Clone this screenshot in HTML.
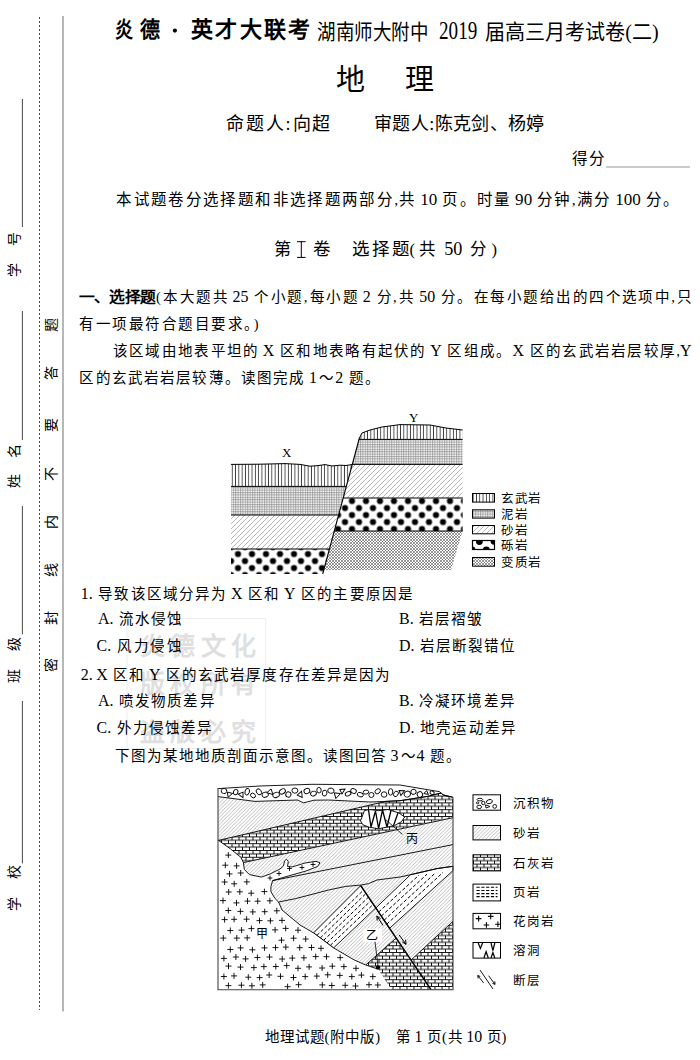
<!DOCTYPE html><html lang="zh-CN"><head><meta charset="utf-8"><style>
*{margin:0;padding:0;box-sizing:border-box}
html,body{width:700px;height:1060px;background:#fff;overflow:hidden}
body{position:relative;font-family:"Liberation Serif",serif;color:#000}
.t{position:absolute;white-space:nowrap;line-height:1;text-align:justify;text-align-last:justify}
.n{position:absolute;white-space:nowrap;line-height:1}
.h{font-family:"Liberation Sans",sans-serif}
svg{position:absolute;left:0;top:0}
</style></head><body>
<svg width="700" height="1060" viewBox="0 0 700 1060"><defs>
<pattern id="basalt" width="3.3" height="10" patternUnits="userSpaceOnUse"><rect width="3.3" height="10" fill="#fff"/><line x1="1.2" y1="0" x2="1.2" y2="10" stroke="#000" stroke-width="0.75"/></pattern>
<pattern id="mud" width="2.4" height="2.4" patternUnits="userSpaceOnUse"><rect width="2.4" height="2.4" fill="#fff"/><line x1="0.6" y1="0" x2="0.6" y2="2.4" stroke="#888" stroke-width="0.7"/><line x1="0" y1="0.6" x2="2.4" y2="0.6" stroke="#888" stroke-width="0.7"/></pattern>
<pattern id="sand1" width="5" height="5" patternUnits="userSpaceOnUse"><rect width="5" height="5" fill="#fff"/><path d="M-1,6 L6,-1 M-1,1 L1,-1 M4,6 L6,4" stroke="#777" stroke-width="0.55"/></pattern>
<pattern id="cong" width="14" height="14" patternUnits="userSpaceOnUse" x="234.5" y="550.5"><rect width="14" height="14" fill="#fff"/><circle cx="3.5" cy="3.5" r="3.1" fill="#000"/><circle cx="10.5" cy="10.5" r="3.1" fill="#000"/><circle cx="10.5" cy="-3.5" r="3.1" fill="#000"/><circle cx="-3.5" cy="10.5" r="3.1" fill="#000"/><circle cx="17.5" cy="10.5" r="3.1" fill="#000"/><circle cx="10.5" cy="17.5" r="3.1" fill="#000"/></pattern>
<pattern id="cong2" width="14" height="14" patternUnits="userSpaceOnUse" x="348.5" y="497.5"><rect width="14" height="14" fill="#fff"/><circle cx="3.5" cy="3.5" r="3.1" fill="#000"/><circle cx="10.5" cy="10.5" r="3.1" fill="#000"/><circle cx="10.5" cy="-3.5" r="3.1" fill="#000"/><circle cx="-3.5" cy="10.5" r="3.1" fill="#000"/><circle cx="17.5" cy="10.5" r="3.1" fill="#000"/><circle cx="10.5" cy="17.5" r="3.1" fill="#000"/></pattern>
<pattern id="meta" width="3" height="3" patternUnits="userSpaceOnUse"><rect width="3" height="3" fill="#fff"/><path d="M0,0 L3,3 M3,0 L0,3" stroke="#555" stroke-width="0.6"/></pattern>
<pattern id="sand2" width="3.6" height="3.6" patternUnits="userSpaceOnUse"><rect width="3.6" height="3.6" fill="#fff"/><path d="M-0.9,4.5 L4.5,-0.9 M-0.9,0.9 L0.9,-0.9 M2.7,4.5 L4.5,2.7" stroke="#777" stroke-width="0.5"/></pattern>
<pattern id="brick" width="7" height="6.8" patternUnits="userSpaceOnUse"><rect width="7" height="6.8" fill="#fff"/><path d="M0,0.5 H7 M0,3.9 H7 M1,0.5 V3.9 M4.5,3.9 V6.8" stroke="#000" stroke-width="0.9"/></pattern>
</defs>
<circle cx="174.9" cy="30.6" r="2.1" fill="#000"/>
<path d="M301.3,241.5 V257.6 M297,241.7 H305.6 M297,257.4 H305.6" stroke="#000" stroke-width="1.0" fill="none"/>
<line x1="39.5" y1="17" x2="39.5" y2="1010" stroke="#333" stroke-width="0.9" stroke-dasharray="2 2"/>
<line x1="63" y1="16" x2="63" y2="1011.5" stroke="#999" stroke-width="1.4"/>
<line x1="22.4" y1="99" x2="22.4" y2="227" stroke="#333" stroke-width="0.9"/>
<line x1="22.4" y1="311" x2="22.4" y2="440" stroke="#333" stroke-width="0.9"/>
<line x1="22.4" y1="506" x2="22.4" y2="634.4" stroke="#333" stroke-width="0.9"/>
<line x1="22.4" y1="701" x2="22.4" y2="863.4" stroke="#333" stroke-width="0.9"/>
<line x1="606" y1="167" x2="690" y2="167" stroke="#999" stroke-width="1.2"/>
<rect x="127" y="618.6" width="138.7" height="130" fill="none" stroke="#eee" stroke-width="1"/>
<polygon points="231.0,464.4 260.0,464.2 285.0,463.6 300.0,464.4 310.0,466.2 318.0,465.6 325.0,464.6 332.0,466.0 340.0,465.2 346.0,465.5 352.3,464.5 346.4,486.4 231.0,486.4" fill="url(#basalt)"/>
<polygon points="231.0,486.4 346.4,486.4 338.6,515.0 231.0,515.0" fill="url(#mud)"/>
<polygon points="231.0,515.0 338.6,515.0 329.4,549.0 231.0,549.0" fill="url(#sand1)"/>
<polygon points="231.0,549.0 329.4,549.0 322.7,574.0 231.0,574.0" fill="url(#cong)"/>
<polyline points="231.0,464.4 260.0,464.2 285.0,463.6 300.0,464.4 310.0,466.2 318.0,465.6 325.0,464.6 332.0,466.0 340.0,465.2 346.0,465.5 352.3,464.5" fill="none" stroke="#000" stroke-width="1"/>
<line x1="231" y1="486.4" x2="346.4" y2="486.4" stroke="#000" stroke-width="1"/>
<line x1="231" y1="515" x2="338.6" y2="515" stroke="#000" stroke-width="1"/>
<line x1="231" y1="549" x2="329.4" y2="549" stroke="#000" stroke-width="1"/>
<polygon points="359.4,438.0 362.0,433.0 370.0,430.0 382.0,427.0 400.0,424.6 430.0,425.0 446.0,428.0 462.6,430.0 462.6,439.4 359.0,439.4" fill="url(#basalt)"/>
<polygon points="359.0,439.4 462.6,439.4 462.6,464.4 352.3,464.4" fill="url(#mud)"/>
<polygon points="352.3,464.4 462.6,464.4 462.6,498.0 343.2,498.0" fill="url(#sand1)"/>
<polygon points="343.2,498.0 462.6,498.0 462.6,531.0 334.3,531.0" fill="url(#cong2)"/>
<polygon points="334.3,531.0 462.6,531.0 451.0,570.0 323.8,570.0" fill="url(#meta)"/>
<polyline points="359.4,438.0 362.0,433.0 370.0,430.0 382.0,427.0 400.0,424.6 430.0,425.0 446.0,428.0 462.6,430.0" fill="none" stroke="#000" stroke-width="1"/>
<line x1="359.0" y1="439.4" x2="462.6" y2="439.4" stroke="#000" stroke-width="1"/>
<line x1="352.3" y1="464.4" x2="462.6" y2="464.4" stroke="#000" stroke-width="1"/>
<line x1="343.2" y1="498" x2="462.6" y2="498" stroke="#000" stroke-width="1"/>
<line x1="334.3" y1="531" x2="462.6" y2="531" stroke="#000" stroke-width="1"/>
<line x1="359.4" y1="438" x2="322.7" y2="574" stroke="#000" stroke-width="1.1"/>
<rect x="472.5" y="493.5" width="22" height="8.600000000000023" fill="url(#basalt)" stroke="#000" stroke-width="1"/>
<rect x="472.5" y="509.8" width="22" height="8.300000000000011" fill="url(#mud)" stroke="#000" stroke-width="1"/>
<rect x="472.5" y="525.5" width="22" height="8.299999999999955" fill="url(#sand1)" stroke="#000" stroke-width="1"/>
<clipPath id="cgclip"><rect x="472.5" y="540.5" width="22" height="9"/></clipPath>
<rect x="472.5" y="540.5" width="22" height="9" fill="#fff"/>
<g clip-path="url(#cgclip)" fill="#000"><circle cx="479.4" cy="541.6" r="3.4"/><circle cx="494" cy="541.3" r="3.4"/><circle cx="486.3" cy="549.8" r="3.4"/><circle cx="472.3" cy="549.5" r="3"/></g>
<rect x="472.5" y="540.5" width="22" height="9" fill="none" stroke="#000" stroke-width="1.2"/>
<rect x="472.5" y="557.5" width="22" height="8.700000000000045" fill="url(#meta)" stroke="#000" stroke-width="1"/>
<polygon points="218.0,788.6 260.0,786.0 312.0,784.3 400.0,785.0 439.6,791.7 443.3,795.0 453.0,797.3 441.0,793.0 427.5,796.4 400.0,800.7 385.7,801.4 371.0,802.0 357.0,801.4 328.6,800.0 314.0,800.2 303.4,802.9 297.7,800.0 255.0,801.4 218.0,796.6" fill="#fff"/>
<g fill="#fff" stroke="#000" stroke-width="0.9"><ellipse cx="224.0" cy="791.0" rx="2.8" ry="2.6" transform="rotate(13 224.0 791.0)"/><path d="M229.8,791.1 L232.6,796.3 L227.5,796.0Z" transform="rotate(78 229.8 794.0)"/><ellipse cx="235.7" cy="792.1" rx="2.7" ry="2.2" transform="rotate(113 235.7 792.1)"/><path d="M241.8,792.0 L244.7,797.2 L239.5,796.9Z" transform="rotate(155 241.8 794.9)"/><ellipse cx="247.2" cy="791.7" rx="3.4" ry="2.2" transform="rotate(105 247.2 791.7)"/><ellipse cx="253.0" cy="795.5" rx="2.7" ry="2.1" transform="rotate(37 253.0 795.5)"/><ellipse cx="258.9" cy="791.8" rx="3.2" ry="2.4" transform="rotate(54 258.9 791.8)"/><ellipse cx="265.2" cy="794.7" rx="3.2" ry="2.5" transform="rotate(158 265.2 794.7)"/><path d="M270.8,789.2 L274.0,794.8 L268.3,794.5Z" transform="rotate(136 270.8 792.3)"/><ellipse cx="276.1" cy="794.9" rx="3.4" ry="2.5" transform="rotate(158 276.1 794.9)"/><ellipse cx="282.4" cy="791.4" rx="3.2" ry="2.4" transform="rotate(151 282.4 791.4)"/><ellipse cx="288.4" cy="794.5" rx="2.7" ry="2.6" transform="rotate(116 288.4 794.5)"/><ellipse cx="294.9" cy="790.6" rx="3.0" ry="2.6" transform="rotate(4 294.9 790.6)"/><path d="M300.4,791.0 L303.4,796.5 L297.9,796.2Z" transform="rotate(23 300.4 794.1)"/><ellipse cx="306.9" cy="791.0" rx="3.0" ry="2.5" transform="rotate(159 306.9 791.0)"/><ellipse cx="313.5" cy="793.6" rx="3.0" ry="2.3" transform="rotate(159 313.5 793.6)"/><ellipse cx="319.0" cy="790.2" rx="2.8" ry="2.2" transform="rotate(87 319.0 790.2)"/><ellipse cx="324.6" cy="793.1" rx="3.0" ry="2.3" transform="rotate(102 324.6 793.1)"/><ellipse cx="330.9" cy="790.7" rx="3.2" ry="2.6" transform="rotate(10 330.9 790.7)"/><path d="M337.3,791.3 L340.6,797.2 L334.7,796.9Z" transform="rotate(72 337.3 794.6)"/><path d="M342.6,787.6 L345.4,792.7 L340.4,792.4Z" transform="rotate(61 342.6 790.4)"/><ellipse cx="348.1" cy="793.8" rx="3.0" ry="2.0" transform="rotate(157 348.1 793.8)"/><ellipse cx="353.5" cy="791.0" rx="2.9" ry="2.3" transform="rotate(22 353.5 791.0)"/><ellipse cx="360.3" cy="794.7" rx="3.1" ry="2.1" transform="rotate(18 360.3 794.7)"/><ellipse cx="365.9" cy="792.1" rx="2.8" ry="2.0" transform="rotate(171 365.9 792.1)"/><ellipse cx="371.4" cy="795.0" rx="2.6" ry="2.5" transform="rotate(176 371.4 795.0)"/><ellipse cx="377.7" cy="791.3" rx="3.0" ry="2.2" transform="rotate(139 377.7 791.3)"/><ellipse cx="384.1" cy="794.5" rx="2.8" ry="2.7" transform="rotate(177 384.1 794.5)"/><ellipse cx="390.6" cy="791.9" rx="3.3" ry="2.2" transform="rotate(93 390.6 791.9)"/><ellipse cx="395.9" cy="793.9" rx="2.9" ry="2.2" transform="rotate(125 395.9 793.9)"/><path d="M401.8,788.9 L404.7,794.2 L399.4,793.9Z" transform="rotate(66 401.8 791.9)"/><ellipse cx="407.3" cy="794.1" rx="3.2" ry="2.8" transform="rotate(151 407.3 794.1)"/><ellipse cx="413.5" cy="791.8" rx="2.7" ry="2.6" transform="rotate(164 413.5 791.8)"/><ellipse cx="419.9" cy="794.5" rx="2.8" ry="2.7" transform="rotate(60 419.9 794.5)"/><path d="M426.7,790.8 L428.9,794.8 L424.9,794.6Z" transform="rotate(130 426.7 793.0)"/><ellipse cx="432.1" cy="792.8" rx="2.2" ry="1.7" transform="rotate(26 432.1 792.8)"/></g>
<polygon points="218.0,796.6 255.0,801.4 297.7,800.0 303.4,802.9 314.0,800.2 328.6,800.0 357.0,801.4 371.0,802.0 385.7,801.4 400.0,800.7 427.5,796.4 441.0,793.0 453.0,797.3 443.3,795.0 441.0,793.0 427.5,796.4 400.0,800.7 385.7,801.4 218.0,840.5" fill="url(#sand2)"/>
<polygon points="218.0,840.5 385.7,801.4 400.0,800.7 427.5,796.4 441.0,793.0 443.3,795.0 453.0,797.3 453.0,817.7 243.4,862.6 241.0,857.4 230.6,849.0" fill="url(#brick)"/>
<polygon points="243.4,862.6 453.0,817.0 453.0,844.6 272.6,880.6 261.4,877.1 249.4,874.6 244.3,869.4" fill="url(#sand2)"/>
<polygon points="272.6,880.6 453.0,844.6 453.0,866.3 437.0,868.6 410.5,874.7 400.0,877.0 377.0,880.0 368.6,883.6 361.4,885.0 345.7,886.4 328.6,890.0 295.7,898.6 278.6,902.0 275.1,898.6 270.9,891.7 270.9,886.6" fill="url(#sand2)"/>
<polygon points="278.6,902.0 295.7,898.6 328.6,890.0 345.7,886.4 361.4,885.0 368.6,883.6 377.0,880.0 400.0,877.0 410.5,874.7 437.0,868.6 453.0,866.3 453.0,989.7 391.4,989.7 377.7,969.0 365.7,965.0 354.3,960.0 333.6,947.9 313.6,932.9 300.0,925.0 282.0,910.0" fill="url(#sand2)"/>
<polygon points="313.6,932.9 360.7,885.7 375.8,907.9 333.6,947.9" fill="#fff" stroke="#000" stroke-width="0.9"/>
<polygon points="375.8,908.0 410.5,874.7 437.0,868.6 453.0,866.3 453.0,870.6 389.6,928.3" fill="#fff" stroke="#000" stroke-width="0.9"/>
<g stroke="#000" stroke-width="1" stroke-dasharray="3.4 2"><line x1="316.9" y1="935.4" x2="363.5" y2="890.1"/><line x1="320.3" y1="937.9" x2="365.9" y2="893.6"/><line x1="323.6" y1="940.4" x2="368.4" y2="897.2"/><line x1="326.9" y1="942.9" x2="370.8" y2="900.8"/><line x1="330.3" y1="945.4" x2="373.3" y2="904.3"/><line x1="378.6" y1="912.1" x2="419.0" y2="875.1"/><line x1="381.3" y1="916.1" x2="427.0" y2="874.2"/><line x1="384.1" y1="920.2" x2="435.0" y2="873.3"/><line x1="386.8" y1="924.2" x2="443.0" y2="872.4"/></g>
<polygon points="365.7,965.0 396.2,938.0 431.0,989.7 391.4,989.7 377.7,969.0" fill="url(#brick)"/>
<polyline points="365.7,965.0 396.2,938.0" fill="none" stroke="#000" stroke-width="0.9"/>
<polygon points="411.1,960.0 453.0,921.3 453.0,989.7 431.0,989.7" fill="url(#brick)"/>
<polyline points="411.1,960.0 453.0,921.3" fill="none" stroke="#000" stroke-width="0.9"/>
<polygon points="218.0,840.0 230.6,849.0 241.0,857.4 243.4,862.6 244.3,869.4 249.4,874.6 261.4,877.1 270.0,874.0 280.0,869.0 283.5,866.0 284.5,861.0 286.5,859.3 288.3,861.5 287.5,866.5 292.0,867.0 305.0,863.0 316.0,861.3 320.0,862.8 317.5,866.5 306.0,871.0 290.0,875.5 272.6,880.6 270.9,886.6 270.9,891.7 275.1,898.6 278.6,902.0 282.0,910.0 300.0,925.0 313.6,932.9 333.6,947.9 354.3,960.0 365.7,965.0 377.7,969.0 391.4,989.7 218.0,989.7" fill="#fff"/>
<polygon points="261.4,877.1 270.0,874.0 280.0,869.0 283.5,866.0 284.5,861.0 286.5,859.3 288.3,861.5 287.5,866.5 292.0,867.0 305.0,863.0 316.0,861.3 320.0,862.8 317.5,866.5 306.0,871.0 290.0,875.5 272.6,880.6" fill="#fff"/>
<polyline points="218.0,788.6 260.0,786.0 312.0,784.3 400.0,785.0 439.6,791.7 443.3,795.0 453.0,797.3" fill="none" stroke="#000" stroke-width="0.9"/>
<polyline points="218.0,796.6 255.0,801.4 297.7,800.0 303.4,802.9 314.0,800.2 328.6,800.0 357.0,801.4 371.0,802.0 385.7,801.4 400.0,800.7 427.5,796.4 441.0,793.0" fill="none" stroke="#000" stroke-width="0.9"/>
<polyline points="218.0,840.5 385.7,801.4 400.0,800.7 427.5,796.4 441.0,793.0 443.3,795.0 453.0,797.3" fill="none" stroke="#000" stroke-width="0.9"/>
<polyline points="243.4,862.6 453.0,817.7" fill="none" stroke="#000" stroke-width="0.9"/>
<polyline points="272.6,880.6 453.0,844.6" fill="none" stroke="#000" stroke-width="0.9"/>
<polyline points="278.6,902.0 295.7,898.6 328.6,890.0 345.7,886.4 361.4,885.0 368.6,883.6 377.0,880.0 400.0,877.0 410.5,874.7 437.0,868.6 453.0,866.3" fill="none" stroke="#000" stroke-width="0.9"/>
<polyline points="218.0,840.0 230.6,849.0 241.0,857.4 243.4,862.6 244.3,869.4 249.4,874.6 261.4,877.1 270.0,874.0 280.0,869.0 283.5,866.0 284.5,861.0 286.5,859.3 288.3,861.5 287.5,866.5 292.0,867.0 305.0,863.0 316.0,861.3 320.0,862.8 317.5,866.5 306.0,871.0 290.0,875.5 272.6,880.6 270.9,886.6 270.9,891.7 275.1,898.6 278.6,902.0 282.0,910.0 300.0,925.0 313.6,932.9 333.6,947.9 354.3,960.0 365.7,965.0 377.7,969.0" fill="none" stroke="#000" stroke-width="0.9"/>
<path d="M225.3,855.1h6M228.3,852.1v6M222.3,865.2h6M225.3,862.2v6M233.6,865.9h6M236.6,862.9v6M226.5,873.9h6M229.5,870.9v6M237.7,873.0h6M240.7,870.0v6M221.6,882.0h6M224.6,879.0v6M231.2,883.8h6M234.2,880.8v6M243.8,881.9h6M246.8,878.9v6M225.7,892.0h6M228.7,889.0v6M236.8,891.8h6M239.8,888.8v6M248.2,893.2h6M251.2,890.2v6M261.4,891.6h6M264.4,888.6v6M220.0,900.6h6M223.0,897.6v6M233.5,902.9h6M236.5,899.9v6M244.5,901.1h6M247.5,898.1v6M254.7,901.2h6M257.7,898.2v6M266.9,900.8h6M269.9,897.8v6M225.3,910.5h6M228.3,907.5v6M237.4,911.4h6M240.4,908.4v6M249.8,911.9h6M252.8,908.9v6M261.7,911.7h6M264.7,908.7v6M273.8,910.8h6M276.8,907.8v6M221.6,919.6h6M224.6,916.6v6M231.1,919.3h6M234.1,916.3v6M243.6,919.2h6M246.6,916.2v6M256.5,920.6h6M259.5,917.6v6M267.4,920.8h6M270.4,917.8v6M279.0,920.4h6M282.0,917.4v6M227.3,930.5h6M230.3,927.5v6M238.6,930.1h6M241.6,927.1v6M248.4,928.6h6M251.4,925.6v6M272.1,929.9h6M275.1,926.9v6M282.7,928.4h6M285.7,925.4v6M295.0,930.2h6M298.0,927.2v6M220.3,938.1h6M223.3,935.1v6M233.8,938.1h6M236.8,935.1v6M244.2,937.9h6M247.2,934.9v6M278.5,940.2h6M281.5,937.2v6M290.6,938.2h6M293.6,935.2v6M302.7,939.0h6M305.7,936.0v6M227.3,949.5h6M230.3,946.5v6M237.6,947.9h6M240.6,944.9v6M249.4,949.8h6M252.4,946.8v6M261.5,947.9h6M264.5,944.9v6M272.5,947.6h6M275.5,944.6v6M282.8,947.1h6M285.8,944.1v6M296.7,947.7h6M299.7,944.7v6M308.5,947.5h6M311.5,944.5v6M318.0,948.3h6M321.0,945.3v6M220.9,958.4h6M223.9,955.4v6M232.9,957.0h6M235.9,954.0v6M242.6,958.9h6M245.6,955.9v6M254.4,957.5h6M257.4,954.5v6M266.5,957.0h6M269.5,954.0v6M279.2,959.0h6M282.2,956.0v6M289.3,958.1h6M292.3,955.1v6M300.9,957.8h6M303.9,954.8v6M312.7,956.6h6M315.7,953.6v6M323.5,956.7h6M326.5,953.7v6M337.2,957.6h6M340.2,954.6v6M225.5,966.1h6M228.5,963.1v6M237.5,967.1h6M240.5,964.1v6M250.9,967.6h6M253.9,964.6v6M260.9,966.6h6M263.9,963.6v6M272.8,966.5h6M275.8,963.5v6M283.7,965.6h6M286.7,962.6v6M295.0,968.3h6M298.0,965.3v6M306.1,966.9h6M309.1,963.9v6M319.1,968.0h6M322.1,965.0v6M329.3,966.2h6M332.3,963.2v6M340.9,966.6h6M343.9,963.6v6M353.0,968.3h6M356.0,965.3v6M220.9,976.5h6M223.9,973.5v6M231.0,975.9h6M234.0,972.9v6M245.3,977.2h6M248.3,974.2v6M256.6,977.6h6M259.6,974.6v6M266.2,975.0h6M269.2,972.0v6M277.5,976.3h6M280.5,973.3v6M290.5,977.5h6M293.5,974.5v6M302.2,976.6h6M305.2,973.6v6M313.8,976.1h6M316.8,973.1v6M324.7,974.8h6M327.7,971.8v6M336.8,975.4h6M339.8,972.4v6M348.8,976.6h6M351.8,973.6v6M358.4,975.1h6M361.4,972.1v6M369.8,976.6h6M372.8,973.6v6M225.4,985.6h6M228.4,982.6v6M238.4,985.2h6M241.4,982.2v6M248.9,985.8h6M251.9,982.8v6M259.7,984.9h6M262.7,981.9v6M284.6,986.7h6M287.6,983.7v6M295.6,984.7h6M298.6,981.7v6M319.3,984.9h6M322.3,981.9v6M328.8,985.5h6M331.8,982.5v6M342.2,985.3h6M345.2,982.3v6M352.5,986.0h6M355.5,983.0v6M366.0,984.7h6M369.0,981.7v6M374.8,985.0h6M377.8,982.0v6M287.1,868.5h4.8M289.5,866.1v4.8M299.6,867.5h4.8M302.0,865.1v4.8M310.6,864.5h4.8M313.0,862.1v4.8M267.6,878.0h4.8M270.0,875.6v4.8M276.6,873.5h4.8M279.0,871.1v4.8" stroke="#000" stroke-width="0.9" fill="none"/>
<line x1="360.7" y1="885.7" x2="431" y2="989.7" stroke="#000" stroke-width="1.5"/>
<path d="M383,925.4 L376.9,916 M376.9,916 l0.3,4.6 M376.9,916 l3.6,2.6" stroke="#000" stroke-width="1" fill="none"/>
<path d="M399.1,934.9 L406,944.3 M406,944.3 l-0.4,-4.6 M406,944.3 l-3.8,-2.4" stroke="#000" stroke-width="1" fill="none"/>
<rect x="363.5" y="928.6" width="18.5" height="13.5" fill="#fff"/>
<line x1="375" y1="941.7" x2="378" y2="966" stroke="#000" stroke-width="0.8"/>
<circle cx="378" cy="967.4" r="2.2" fill="#000"/>
<path d="M360.5,820.9 L364.4,810.7 L369.2,809.5 L378.6,810.7 L388,809.5 L399,813 L404.6,817 L401.5,821.7 L394.4,825.6 L386.5,827.2 L378.6,828.8 L369.2,827.2 L362.9,824.8Z" fill="#fff" stroke="#000" stroke-width="0.9"/>
<path d="M368.5,809.8 L371,827 L375.5,811 L378.6,828.5 L382.5,810 L387,827 L391,810.5 M398,813 L393.5,825.5" stroke="#000" stroke-width="1.3" fill="none"/>
<line x1="385.7" y1="819.6" x2="402.4" y2="834.4" stroke="#000" stroke-width="0.8"/>
<polyline points="218,788 218,989.7 453,989.7 453,797.3" fill="none" stroke="#444" stroke-width="1.1"/>
<rect x="473" y="794.8" width="27.5" height="15.400000000000091" fill="#fff" stroke="#000" stroke-width="1"/>
<rect x="473" y="825.5" width="27.5" height="14.399999999999977" fill="url(#sand2)" stroke="#000" stroke-width="1"/>
<rect x="473" y="854.8" width="27.5" height="16.100000000000023" fill="url(#brick)" stroke="#000" stroke-width="1"/>
<rect x="473" y="884.1" width="27.5" height="16.799999999999955" fill="#fff" stroke="#000" stroke-width="1"/>
<rect x="473" y="913.4" width="27.5" height="15.399999999999977" fill="#fff" stroke="#000" stroke-width="1"/>
<rect x="473" y="942.5" width="27.5" height="15.600000000000023" fill="#fff" stroke="#000" stroke-width="1"/>
<g fill="#fff" stroke="#000" stroke-width="0.9"><ellipse cx="479.9" cy="799.6" rx="2.8" ry="1.3"/><ellipse cx="483.3" cy="803" rx="1.7" ry="1.7"/><ellipse cx="489.4" cy="801.6" rx="3" ry="2" transform="rotate(-15 489.4 801.6)"/><ellipse cx="479.2" cy="806.9" rx="2.4" ry="1.7"/><path d="M485.5,804.8 L490,806.5 L486,808z"/><ellipse cx="494.7" cy="806.4" rx="1.9" ry="1.9"/><ellipse cx="477.6" cy="802.8" rx="1.2" ry="1"/></g>
<g stroke="#000" stroke-width="1.1" stroke-dasharray="3.2 1.6"><line x1="476.5" y1="887.3" x2="497.5" y2="887.3"/><line x1="476.5" y1="890.5" x2="497.5" y2="890.5"/><line x1="476.5" y1="893.6" x2="497.5" y2="893.6"/><line x1="476.5" y1="896.6" x2="497.5" y2="896.6"/></g>
<path d="M475.8,918.6h5.6M478.6,915.8v5.6 M487.9,916.4h5.6M490.7,913.6v5.6 M483.6,925h5.6M486.4,922.2v5.6 M495.1,924.3h5.2M497.9,921.5v5.6" stroke="#000" stroke-width="1.1" fill="none"/>
<path d="M478.2,943 L480.4,948.5 L482.6,943 M491,943 L492.9,950.5 L494.8,943 M483.9,958 L486.1,951.5 L488.3,958 M491,958 L492.9,952.5 L494.8,958" stroke="#000" stroke-width="1.2" fill="none"/>
<path d="M480,970 L493,989 M477.8,975.5 L483.6,983 M477.8,975.5 l0.3,3 M477.8,975.5 l2.5,1 M488.6,975.7 L495,984.3 M495,984.3 l-0.2,-3 M495,984.3 l-2.6,-1" stroke="#000" stroke-width="0.9" fill="none"/></svg>
<div class="t" style="left:140.0px;top:633.5px;font-size:25px;font-weight:700;color:#dfdfdf;width:116.0px">炎德文化</div>
<div class="t" style="left:140.0px;top:671.5px;font-size:25px;font-weight:700;color:#dfdfdf;width:116.0px">版权所有</div>
<div class="t" style="left:140.0px;top:719.5px;font-size:25px;font-weight:700;color:#dfdfdf;width:116.0px">盗版必究</div>
<div class="n" style="left:115.0px;top:18.9px;font-size:22px;font-weight:700;color:#000;transform:scaleX(0.8182);transform-origin:0 0">炎</div>
<div class="n" style="left:140.0px;top:18.9px;font-size:22px;font-weight:700;color:#000;transform:scaleX(0.9091);transform-origin:0 0">德</div>
<div class="t" style="left:191.0px;top:18.9px;font-size:22px;font-weight:700;color:#000;width:119.0px">英才大联考</div>
<div class="n" style="left:317.0px;top:21.9px;font-size:21px;font-weight:300;color:#000;transform:scaleX(0.8810);transform-origin:0 0">湖南师大附中</div>
<div class="n" style="left:485.0px;top:21.9px;font-size:21px;font-weight:300;color:#000;transform:scaleX(0.9538);transform-origin:0 0">届高三月考试卷(二)</div>
<div class="t" style="left:336.0px;top:65.9px;font-size:29px;font-weight:500;color:#000;width:98.0px">地　理</div>
<div class="t" style="left:225.7px;top:115.4px;font-size:18px;font-weight:500;color:#000;width:104.8px">命题人:向超</div>
<div class="t" style="left:374.0px;top:115.4px;font-size:18px;font-weight:500;color:#000;width:170.5px">审题人:陈克剑、杨婷</div>
<div class="t" style="left:572.0px;top:150.6px;font-size:15.5px;font-weight:500;color:#000;width:33.0px">得分</div>
<div class="t" style="left:116.3px;top:191.9px;font-size:15.5px;font-weight:300;color:#000;width:562.7px">本试题卷分选择题和非选择题两部分,共<i style="display:inline-block;width:3.5px"></i><b style="font-weight:inherit;font-size:1.1em;line-height:0">10</b><i style="display:inline-block;width:3.5px"></i>页。时量<i style="display:inline-block;width:3.5px"></i><b style="font-weight:inherit;font-size:1.1em;line-height:0">90</b><i style="display:inline-block;width:3.5px"></i>分钟,满分<i style="display:inline-block;width:3.5px"></i><b style="font-weight:inherit;font-size:1.1em;line-height:0">100</b><i style="display:inline-block;width:3.5px"></i>分。</div>
<div class="n" style="left:274.4px;top:241.3px;font-size:17.5px;font-weight:500;color:#000;transform:scaleX(0.9765);transform-origin:0 0">第</div>
<div class="t" style="left:313.0px;top:241.3px;font-size:17.5px;font-weight:500;color:#000;width:18.5px">卷</div>
<div class="t" style="left:351.6px;top:241.3px;font-size:17.5px;font-weight:500;color:#000;width:57.4px">选择题</div>
<div class="t" style="left:409.5px;top:241.8px;font-size:16.5px;font-weight:300;color:#000;width:87.5px">(共<i style="display:inline-block;width:4px"></i><b style="font-weight:inherit;font-size:1.1em;line-height:0">50</b><i style="display:inline-block;width:4px"></i>分)</div>
<div class="n" style="left:79.4px;top:289.5px;font-size:14.5px;font-weight:700;color:#000;transform:scaleX(1.0871);transform-origin:0 0">一、选择题</div>
<div class="t" style="left:156.0px;top:290.3px;font-size:14.5px;font-weight:300;color:#000;width:535.4px">(本大题共<i style="display:inline-block;width:3.5px"></i><b style="font-weight:inherit;font-size:1.1em;line-height:0">25</b><i style="display:inline-block;width:3.5px"></i>个小题,每小题<i style="display:inline-block;width:3.5px"></i><b style="font-weight:inherit;font-size:1.1em;line-height:0">2</b><i style="display:inline-block;width:3.5px"></i>分,共<i style="display:inline-block;width:3.5px"></i><b style="font-weight:inherit;font-size:1.1em;line-height:0">50</b><i style="display:inline-block;width:3.5px"></i>分。在每小题给出的四个选项中,只</div>
<div class="t" style="left:79.4px;top:317.3px;font-size:14.5px;font-weight:300;color:#000;width:179.2px">有一项最符合题目要求。)</div>
<div class="t" style="left:112.9px;top:343.9px;font-size:14.5px;font-weight:300;color:#000;width:578.5px">该区域由地表平坦的<i style="display:inline-block;width:3.5px"></i><b style="font-weight:inherit;font-size:1.1em;line-height:0">X</b><i style="display:inline-block;width:3.5px"></i>区和地表略有起伏的<i style="display:inline-block;width:3.5px"></i><b style="font-weight:inherit;font-size:1.1em;line-height:0">Y</b><i style="display:inline-block;width:3.5px"></i>区组成。<b style="font-weight:inherit;font-size:1.1em;line-height:0">X</b><i style="display:inline-block;width:3.5px"></i>区的玄武岩岩层较厚,<b style="font-weight:inherit;font-size:1.1em;line-height:0">Y</b></div>
<div class="t" style="left:79.4px;top:370.6px;font-size:14.5px;font-weight:300;color:#000;width:299.6px">区的玄武岩岩层较薄。读图完成<i style="display:inline-block;width:3.5px"></i><b style="font-weight:inherit;font-size:1.1em;line-height:0">1</b>～<b style="font-weight:inherit;font-size:1.1em;line-height:0">2</b><i style="display:inline-block;width:3.5px"></i>题。</div>
<div class="t" style="left:80.7px;top:586.6px;font-size:14.5px;font-weight:300;color:#000;width:331.3px"><b style="font-weight:inherit;font-size:1.1em;line-height:0">1.</b><i style="display:inline-block;width:3.5px"></i>导致该区域分异为<i style="display:inline-block;width:3.5px"></i><b style="font-weight:inherit;font-size:1.1em;line-height:0">X</b><i style="display:inline-block;width:3.5px"></i>区和<i style="display:inline-block;width:3.5px"></i><b style="font-weight:inherit;font-size:1.1em;line-height:0">Y</b><i style="display:inline-block;width:3.5px"></i>区的主要原因是</div>
<div class="t" style="left:97.9px;top:612.3px;font-size:14.5px;font-weight:300;color:#000;width:82.7px"><b style="font-weight:inherit;font-size:1.1em;line-height:0">A.</b><i style="display:inline-block;width:3.5px"></i>流水侵蚀</div>
<div class="t" style="left:399.0px;top:612.3px;font-size:14.5px;font-weight:300;color:#000;width:82.4px"><b style="font-weight:inherit;font-size:1.1em;line-height:0">B.</b><i style="display:inline-block;width:3.5px"></i>岩层褶皱</div>
<div class="t" style="left:96.6px;top:638.9px;font-size:14.5px;font-weight:300;color:#000;width:84.0px"><b style="font-weight:inherit;font-size:1.1em;line-height:0">C.</b><i style="display:inline-block;width:3.5px"></i>风力侵蚀</div>
<div class="t" style="left:399.0px;top:638.9px;font-size:14.5px;font-weight:300;color:#000;width:114.6px"><b style="font-weight:inherit;font-size:1.1em;line-height:0">D.</b><i style="display:inline-block;width:3.5px"></i>岩层断裂错位</div>
<div class="t" style="left:80.7px;top:667.6px;font-size:14.5px;font-weight:300;color:#000;width:308.3px"><b style="font-weight:inherit;font-size:1.1em;line-height:0">2.</b><i style="display:inline-block;width:3.5px"></i><b style="font-weight:inherit;font-size:1.1em;line-height:0">X</b><i style="display:inline-block;width:3.5px"></i>区和<i style="display:inline-block;width:3.5px"></i><b style="font-weight:inherit;font-size:1.1em;line-height:0">Y</b><i style="display:inline-block;width:3.5px"></i>区的玄武岩厚度存在差异是因为</div>
<div class="t" style="left:97.9px;top:694.0px;font-size:14.5px;font-weight:300;color:#000;width:115.7px"><b style="font-weight:inherit;font-size:1.1em;line-height:0">A.</b><i style="display:inline-block;width:3.5px"></i>喷发物质差异</div>
<div class="t" style="left:399.0px;top:694.0px;font-size:14.5px;font-weight:300;color:#000;width:114.6px"><b style="font-weight:inherit;font-size:1.1em;line-height:0">B.</b><i style="display:inline-block;width:3.5px"></i>冷凝环境差异</div>
<div class="t" style="left:96.6px;top:721.0px;font-size:14.5px;font-weight:300;color:#000;width:114.8px"><b style="font-weight:inherit;font-size:1.1em;line-height:0">C.</b><i style="display:inline-block;width:3.5px"></i>外力侵蚀差异</div>
<div class="t" style="left:399.0px;top:721.0px;font-size:14.5px;font-weight:300;color:#000;width:116.0px"><b style="font-weight:inherit;font-size:1.1em;line-height:0">D.</b><i style="display:inline-block;width:3.5px"></i>地壳运动差异</div>
<div class="t" style="left:115.0px;top:748.6px;font-size:14.5px;font-weight:300;color:#000;width:345.0px">下图为某地地质剖面示意图。读图回答<i style="display:inline-block;width:3.5px"></i><b style="font-weight:inherit;font-size:1.1em;line-height:0">3</b>～<b style="font-weight:inherit;font-size:1.1em;line-height:0">4</b><i style="display:inline-block;width:3.5px"></i>题。</div>
<div class="t" style="left:264.7px;top:1030.0px;font-size:14.5px;font-weight:300;color:#000;width:241.8px">地理试题(附中版)　第<i style="display:inline-block;width:3.5px"></i><b style="font-weight:inherit;font-size:1.1em;line-height:0">1</b><i style="display:inline-block;width:3.5px"></i>页(共<i style="display:inline-block;width:3.5px"></i><b style="font-weight:inherit;font-size:1.1em;line-height:0">10</b><i style="display:inline-block;width:3.5px"></i>页)</div>
<div class="n" style="left:438.8px;top:18.3px;font-size:25px;transform:scaleX(0.765);transform-origin:0 0">2019</div>
<div class="n" style="left:606px;top:0;width:0"></div>
<div class="n" style="left:501.4px;top:492.5px;font-size:12.5px;font-weight:300;letter-spacing:0.5px">玄武岩</div>
<div class="n" style="left:501.4px;top:508.5px;font-size:12.5px;font-weight:300;letter-spacing:0.5px">泥岩</div>
<div class="n" style="left:501.4px;top:524.5px;font-size:12.5px;font-weight:300;letter-spacing:0.5px">砂岩</div>
<div class="n" style="left:501.4px;top:540.0px;font-size:12.5px;font-weight:300;letter-spacing:0.5px">砾岩</div>
<div class="n" style="left:501.4px;top:556.5px;font-size:12.5px;font-weight:300;letter-spacing:0.5px">变质岩</div>
<div class="n" style="left:513px;top:797.5px;font-size:12.5px;font-weight:300;letter-spacing:1px">沉积物</div>
<div class="n" style="left:513px;top:827.5px;font-size:12.5px;font-weight:300;letter-spacing:1px">砂岩</div>
<div class="n" style="left:513px;top:857.5px;font-size:12.5px;font-weight:300;letter-spacing:1px">石灰岩</div>
<div class="n" style="left:513px;top:887.0px;font-size:12.5px;font-weight:300;letter-spacing:1px">页岩</div>
<div class="n" style="left:513px;top:916.0px;font-size:12.5px;font-weight:300;letter-spacing:1px">花岗岩</div>
<div class="n" style="left:513px;top:945.0px;font-size:12.5px;font-weight:300;letter-spacing:1px">溶洞</div>
<div class="n" style="left:513px;top:974.5px;font-size:12.5px;font-weight:300;letter-spacing:1px">断层</div>
<div class="n" style="left:282px;top:445.5px;font-size:13px">X</div>
<div class="n" style="left:409px;top:410.5px;font-size:13px">Y</div>
<div class="n" style="left:7.5px;top:231.5px;font-size:14px;font-weight:300;color:#000;transform:rotate(-90deg);transform-origin:50% 50%">号</div>
<div class="n" style="left:7.5px;top:262.5px;font-size:14px;font-weight:300;color:#000;transform:rotate(-90deg);transform-origin:50% 50%">学</div>
<div class="n" style="left:7.5px;top:443.5px;font-size:14px;font-weight:300;color:#000;transform:rotate(-90deg);transform-origin:50% 50%">名</div>
<div class="n" style="left:7.5px;top:474px;font-size:14px;font-weight:300;color:#000;transform:rotate(-90deg);transform-origin:50% 50%">姓</div>
<div class="n" style="left:7.5px;top:637px;font-size:14px;font-weight:300;color:#000;transform:rotate(-90deg);transform-origin:50% 50%">级</div>
<div class="n" style="left:7.5px;top:669px;font-size:14px;font-weight:300;color:#000;transform:rotate(-90deg);transform-origin:50% 50%">班</div>
<div class="n" style="left:7.5px;top:864.5px;font-size:14px;font-weight:300;color:#000;transform:rotate(-90deg);transform-origin:50% 50%">校</div>
<div class="n" style="left:7.5px;top:896.5px;font-size:14px;font-weight:300;color:#000;transform:rotate(-90deg);transform-origin:50% 50%">学</div>
<div class="n" style="left:45px;top:318.4px;font-size:14px;font-weight:300;color:#000;transform:rotate(-90deg);transform-origin:50% 50%">题</div>
<div class="n" style="left:45px;top:366px;font-size:14px;font-weight:300;color:#000;transform:rotate(-90deg);transform-origin:50% 50%">答</div>
<div class="n" style="left:45px;top:417.7px;font-size:14px;font-weight:300;color:#000;transform:rotate(-90deg);transform-origin:50% 50%">要</div>
<div class="n" style="left:45px;top:466.8px;font-size:14px;font-weight:300;color:#000;transform:rotate(-90deg);transform-origin:50% 50%">不</div>
<div class="n" style="left:45px;top:514.6px;font-size:14px;font-weight:300;color:#000;transform:rotate(-90deg);transform-origin:50% 50%">内</div>
<div class="n" style="left:45px;top:563.3px;font-size:14px;font-weight:300;color:#000;transform:rotate(-90deg);transform-origin:50% 50%">线</div>
<div class="n" style="left:45px;top:611px;font-size:14px;font-weight:300;color:#000;transform:rotate(-90deg);transform-origin:50% 50%">封</div>
<div class="n" style="left:45px;top:657.7px;font-size:14px;font-weight:300;color:#000;transform:rotate(-90deg);transform-origin:50% 50%">密</div>
<div class="n" style="left:406px;top:832.5px;font-size:12px;font-weight:300">丙</div>
<div class="n" style="left:366px;top:929.5px;font-size:12px;font-weight:300">乙</div>
<div class="n" style="left:255.5px;top:927.5px;font-size:12px;font-weight:300">甲</div>
</body></html>
